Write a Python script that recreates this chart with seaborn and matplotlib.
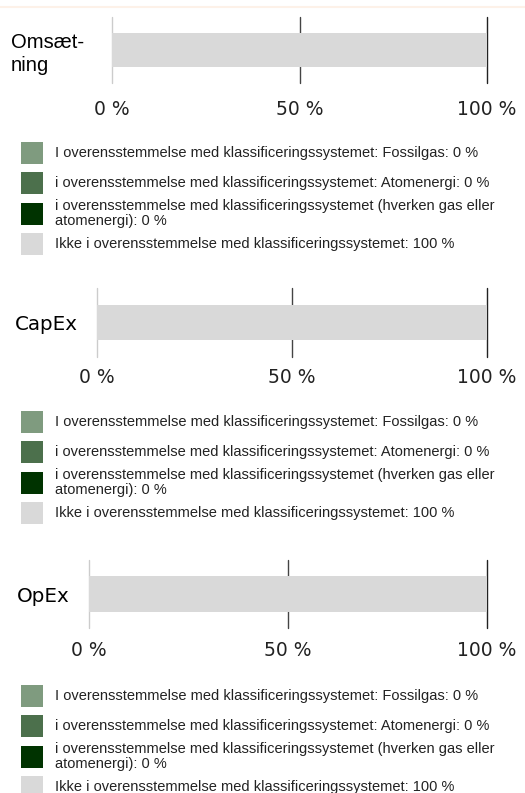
import matplotlib
matplotlib.use('Agg')
import matplotlib.pyplot as plt
import seaborn as sns
import pandas as pd
from matplotlib.patches import Rectangle
from matplotlib.lines import Line2D

# ---------- data ----------
kpis = ['Omsætning', 'CapEx', 'OpEx']
kpi_labels = ['Omsæt-\nning', 'CapEx', 'OpEx']
segments = [
    'I overensstemmelse med klassificeringssystemet: Fossilgas',
    'i overensstemmelse med klassificeringssystemet: Atomenergi',
    'i overensstemmelse med klassificeringssystemet (hverken gas eller\natomenergi)',
    'Ikke i overensstemmelse med klassificeringssystemet',
]
fossilgas = [0, 0, 0]
atomenergi = [0, 0, 0]
neither = [0, 0, 0]
not_aligned = [100, 100, 100]
colors = ['#7f9b7f', '#4c704c', '#003300', '#d9d9d9']
xticks = [0, 50, 100]
xtick_labels = ['0 %', '50 %', '100 %']

W, H = 525, 793
sns.set_theme(style='white')
plt.rcParams['font.family'] = ['DejaVu Sans']
fig = plt.figure(figsize=(W / 100, H / 100), dpi=100)


def px_axes(x0, y0, x1, y1):
    return fig.add_axes([x0 / W, 1 - y1 / H, (x1 - x0) / W, (y1 - y0) / H])


# layout per panel: axes box (px), bar width, tick pad, label pad, label font, legend top
panels = [
    dict(box=(112, 17, 487, 83), width=0.53, pad=12, lpad=20, lfont='Liberation Sans', lsize=14.6, leg=142),
    dict(box=(97, 288, 487, 357), width=0.51, pad=8, lpad=14, lfont='DejaVu Sans', lsize=14.3, leg=411),
    dict(box=(89, 560, 487, 628), width=0.515, pad=9.5, lpad=14, lfont='DejaVu Sans', lsize=14.3, leg=685),
]

overlay = fig.add_axes([0, 0, 1, 1])
overlay.set_xlim(0, W)
overlay.set_ylim(H, 0)
overlay.axis('off')

for i, p in enumerate(panels):
    ax = px_axes(*p['box'])
    vals = [fossilgas[i], atomenergi[i], neither[i], not_aligned[i]]
    cum = pd.Series(vals).cumsum().tolist()
    # stacked bar: draw cumulative totals from the largest down
    for k in reversed(range(4)):
        df = pd.DataFrame({'kpi': [kpi_labels[i]], 'value': [cum[k]]})
        sns.barplot(data=df, x='value', y='kpi', color=colors[k], orient='h',
                    width=p['width'], saturation=1, linewidth=0, ax=ax, zorder=2)
    ax.set_xlim(0, 100)
    ax.set_ylim(0.5, -0.5)
    ax.set_xlabel('')
    ax.set_ylabel('')
    ax.set_xticks(xticks)
    ax.set_xticklabels(xtick_labels, fontsize=13.5, color='#222222')
    ax.tick_params(axis='x', length=0, pad=p['pad'])
    ax.tick_params(axis='y', length=0, pad=p['lpad'])
    for t in ax.get_yticklabels():
        t.set_fontfamily(p['lfont'])
        t.set_fontsize(p['lsize'])
        t.set_multialignment('left')
        t.set_linespacing(1.25)
        t.set_color('#000000')
    for s in ax.spines.values():
        s.set_visible(False)
    ax.grid(True, axis='x')
    ax.set_axisbelow(True)
    for g, c in zip(ax.get_xgridlines(), ['#cccccc', '#444444', '#222222']):
        g.set_color(c)
        g.set_linewidth(1)
        g.set_clip_on(False)

    # legend
    top = p['leg']
    for k in range(4):
        y = top + k * 30.3
        overlay.add_patch(Rectangle((21, y), 22, 22, color=colors[k], lw=0))
        overlay.text(55, y + 11, f'{segments[k]}: {vals[k]} %', fontsize=10.5,
                     family='Liberation Sans', color='#222222',
                     va='center', ha='left', linespacing=1.05)

fig.add_artist(Line2D([0, 1], [1 - 6.5 / H] * 2, transform=fig.transFigure,
                      color='#fdf1e8', lw=1.5))

fig.savefig('out.png', dpi=100)
